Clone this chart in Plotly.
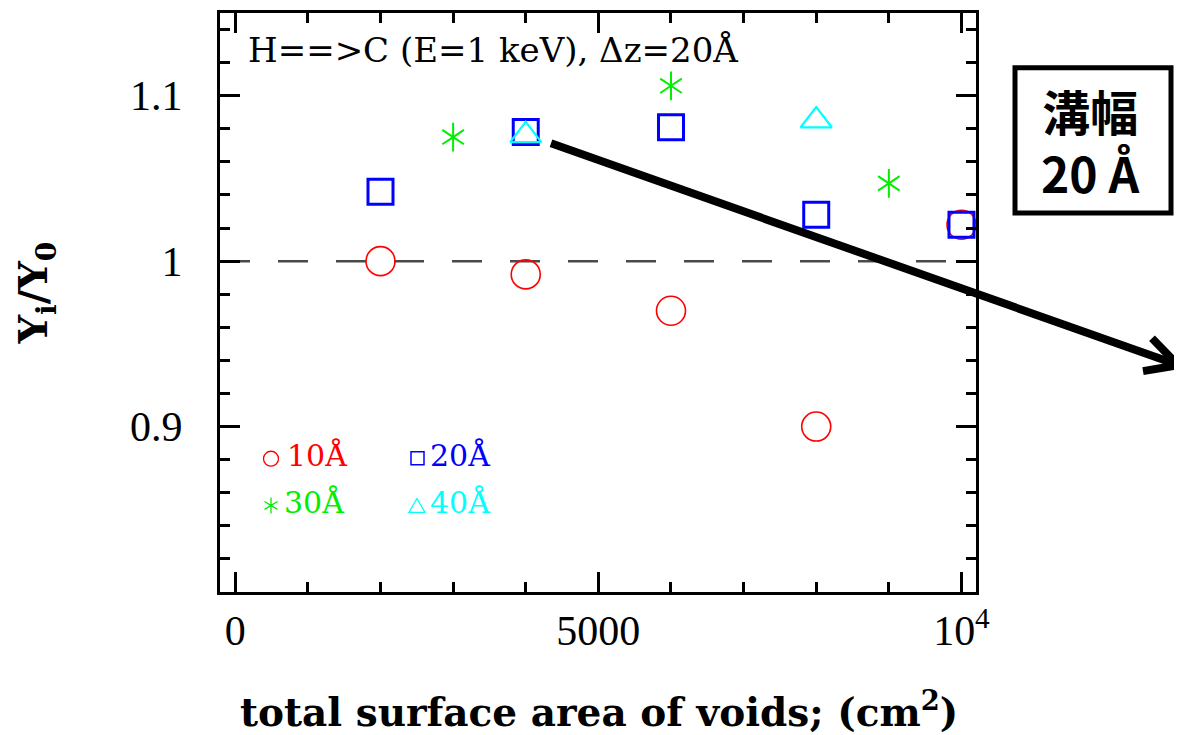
import plotly.graph_objects as go

# ---- data ----
x_10 = [2000, 4000, 6000, 8000, 10000]
y_10 = [1.000, 0.992, 0.970, 0.900, 1.022]
x_20 = [2000, 4000, 6000, 8000, 10000]
y_20 = [1.042, 1.078, 1.081, 1.028, 1.022]
x_30 = [3000, 6000, 9000]
y_30 = [1.075, 1.106, 1.047]
x_40 = [4000, 8000]
y_40 = [1.076, 1.085]

x_tickvals = [0, 5000, 10000]
x_ticktext = ["0", "5000", "10<sup>4</sup>"]
y_tickvals = [0.9, 1.0, 1.1]
y_ticktext = ["0.9", "1", "1.1"]

PAGE_W, PAGE_H = 1182, 735
OFF = 8  # default body margin of the html page
W, H = PAGE_W - OFF, PAGE_H - OFF
L, R, T, B = 220, 976, 10, 592  # plot area in page pixels


def px(x):
    return (x - L) / (R - L)


def py(y):
    return (B - y) / (B - T)


SERIF = "Liberation Serif"
fig = go.Figure()

fig.add_trace(go.Scatter(x=x_10, y=y_10, mode="markers", showlegend=False,
                         marker=dict(symbol="circle-open", size=29, color="#ff0000",
                                     line=dict(width=1.6, color="#ff0000"))))
fig.add_trace(go.Scatter(x=x_20, y=y_20, mode="markers", showlegend=False,
                         marker=dict(symbol="square-open", size=25, color="#0000ff",
                                     line=dict(width=3, color="#0000ff"))))
for sym in ["y-up-open", "y-down-open"]:
    fig.add_trace(go.Scatter(x=x_30, y=y_30, mode="markers", showlegend=False,
                             marker=dict(symbol=sym, size=18, color="#00ee00",
                                         line=dict(width=2, color="#00ee00"))))
fig.add_trace(go.Scatter(x=x_40, y=y_40, mode="markers", showlegend=False,
                         marker=dict(symbol="triangle-up-open", size=27, color="#00ffff",
                                     line=dict(width=2.2, color="#00ffff"))))

shapes = [
    dict(type="line", xref="paper", yref="y", x0=0, x1=1, y0=1, y1=1,
         line=dict(color="#4a4a4a", width=2.5, dash="30px,28px"), layer="below"),
    # arrow
    dict(type="line", xref="paper", yref="paper", x0=px(551), y0=py(141), x1=px(1176), y1=py(363),
         line=dict(color="black", width=8)),
    dict(type="path", xref="paper", yref="paper",
         path=f"M {px(1152)},{py(337)} L {px(1178)},{py(364)} L {px(1143)},{py(370)}",
         line=dict(color="black", width=8)),
    # box
    dict(type="rect", xref="paper", yref="paper", x0=px(1015), x1=px(1171), y0=py(65), y1=py(211),
         line=dict(color="black", width=5)),
    # legend keys
    dict(type="circle", xref="paper", yref="paper", x0=px(263.5), x1=px(278.5), y0=py(450.5), y1=py(465.5),
         line=dict(color="#ff0000", width=1.3)),
    dict(type="rect", xref="paper", yref="paper", x0=px(411), x1=px(424), y0=py(451), y1=py(464),
         line=dict(color="#0000ff", width=1.5)),
    dict(type="path", xref="paper", yref="paper",
         path=(f"M {px(271)},{py(497)} L {px(271)},{py(513)} "
               f"M {px(264.5)},{py(501)} L {px(277.5)},{py(509)} "
               f"M {px(264.5)},{py(509)} L {px(277.5)},{py(501)}"),
         line=dict(color="#00ee00", width=1.3)),
    dict(type="path", xref="paper", yref="paper",
         path=f"M {px(409)},{py(512)} L {px(425)},{py(512)} L {px(417)},{py(498)} Z",
         line=dict(color="#00ffff", width=1.3)),
]

annotations = [
    dict(text="H==>C (E=1 keV), Δz=20Å", x=px(246), y=py(47), xanchor="left", yanchor="middle",
         font=dict(family="DejaVu Serif", size=34, color="black")),
    dict(text="10Å", x=px(285), y=py(455), xanchor="left", yanchor="middle",
         font=dict(family="DejaVu Serif", size=30, color="#ff0000")),
    dict(text="20Å", x=px(428), y=py(455), xanchor="left", yanchor="middle",
         font=dict(family="DejaVu Serif", size=30, color="#0000ff")),
    dict(text="30Å", x=px(282), y=py(502), xanchor="left", yanchor="middle",
         font=dict(family="DejaVu Serif", size=30, color="#00ee00")),
    dict(text="40Å", x=px(428), y=py(502), xanchor="left", yanchor="middle",
         font=dict(family="DejaVu Serif", size=30, color="#00ffff")),
    dict(text="<b>溝幅</b><br><b>20 Å</b>", x=px(1090), y=py(139), xanchor="center", yanchor="middle",
         font=dict(family="Noto Sans CJK JP", size=48, color="black")),
    dict(text="<b>Y<sub>i</sub>/Y<sub>0</sub></b>", x=px(36), y=py(292), xanchor="center", yanchor="middle",
         textangle=-90, font=dict(family="DejaVu Serif", size=40, color="black")),
    dict(text="<b>total surface area of voids; (cm<sup>2</sup>)</b>", x=px(599), y=py(710),
         xanchor="center", yanchor="middle", font=dict(family="DejaVu Serif", size=39, color="black")),
]
for a in annotations:
    a.update(xref="paper", yref="paper", showarrow=False)

axis_common = dict(showline=True, linewidth=3, linecolor="black", mirror="ticks",
                   ticks="inside", tickwidth=3, tickcolor="black", ticklen=20,
                   showgrid=False, zeroline=False,
                   tickfont=dict(family=SERIF, size=42, color="black"))

fig.update_layout(
    width=W, height=H, autosize=False,
    margin=dict(l=L - OFF, r=PAGE_W - R, t=T - OFF, b=PAGE_H - B),
    plot_bgcolor="white", paper_bgcolor="white",
    xaxis=dict(range=[-210, 10200], tickmode="array", tickvals=x_tickvals, ticktext=x_ticktext,
               minor=dict(tickmode="linear", tick0=0, dtick=1000, ticks="inside", ticklen=10,
                          tickwidth=3, tickcolor="black"),
               ticklabelstandoff=0, **axis_common),
    yaxis=dict(range=[0.8, 1.15], tickmode="array", tickvals=y_tickvals, ticktext=y_ticktext,
               minor=dict(tickmode="linear", tick0=0.8, dtick=0.02, ticks="inside", ticklen=10,
                          tickwidth=3, tickcolor="black"),
               ticklabelstandoff=26, **axis_common),
    shapes=shapes, annotations=annotations, showlegend=False,
)

fig.write_html("out.html")
